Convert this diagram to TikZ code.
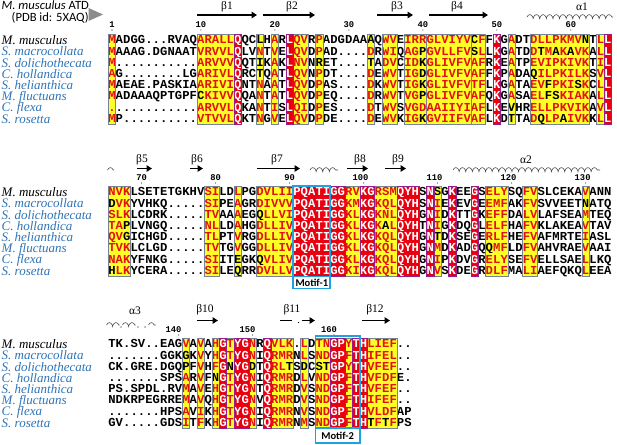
\documentclass[tikz,border=0pt]{standalone}
\usepackage{fontspec}
\usepackage{xcolor}
\usepackage{tikz}
\usetikzlibrary{arrows.meta,positioning,calc,decorations.pathmorphing}

\newfontfamily\seqfont{Liberation Mono}
\newfontfamily\spfont{Liberation Serif}
\newfontfamily\hdfont{Carlito}

\definecolor{simyellow}{RGB}{255,255,40}
\definecolor{idred}{RGB}{232,0,16}
\definecolor{simred}{RGB}{226,18,18}
\definecolor{boxgray}{RGB}{120,130,150}
\definecolor{boxpurple}{RGB}{150,30,140}
\definecolor{motifblue}{RGB}{30,162,224}
\definecolor{specblue}{RGB}{46,116,181}

% alignment geometry (1 unit = 1pt = 1px)
\newcommand{\colw}{7.4}
\newcommand{\colzero}{104.6}
\newcommand{\rowh}{11.2}

% column classes: n = plain, y = similar (yellow), r = identical (red)
\newcommand{\clsA}{ynnnnnnnnnnnyyyyyrnnynynryynynnnnnnynyynyyyyyyyyyyynrnynnyyyyyyyynyr}
\newcommand{\clsB}{yyynnnnnnnnnnyynnynnyyyyyrrrrrrryyrryyyrrrnrynrnnrnyyynnyynnnnnnynnn}
\newcommand{\clsC}{nnnnnnnnnnynynyryrrynryyynynyyrryrryyyynn}

% one cell: class and residue (lower case = black letter in a yellow column)
\newcommand{\alncell}[2]{%
  \if#1r%
    \fill[idred] ({\colzero+\colw*\alncol-3.78},{\alny-5.75}) rectangle ++(7.56,11.5);
    \node[res,text=white] at ({\colzero+\colw*\alncol},{\alny+3.9}) {#2};%
  \else\if#1y%
    \fill[simyellow] ({\colzero+\colw*\alncol-3.78},{\alny-5.75}) rectangle ++(7.56,11.5);
    \ifnum`#2>`Z\relax
      \node[res] at ({\colzero+\colw*\alncol},{\alny+3.9}) {\uppercase{#2}};%
    \else
      \node[res,text=simred] at ({\colzero+\colw*\alncol},{\alny+3.9}) {#2};%
    \fi
  \else
    \node[res] at ({\colzero+\colw*\alncol},{\alny+3.9}) {#2};%
  \fi\fi}
\newcommand{\alnrow}[3]{%
  \def\alny{#1}\def\alncol{0}%
  \expandafter\alnstep#2\relax#3\relax}
\def\alnstep#1#2\relax#3#4\relax{%
  \pgfmathtruncatemacro{\alncol}{\alncol+1}%
  \alncell{#1}{#3}%
  \def\alnrest{#2}%
  \ifx\alnrest\empty\let\alnnext\relax
  \else\def\alnnext{\alnstep#2\relax#4\relax}\fi
  \alnnext}

\begin{document}
\begin{tikzpicture}[x=1pt,y=-1pt,
    res/.style={font=\seqfont\bfseries\fontsize{12.2}{12.2}\selectfont, inner sep=0pt, anchor=base},
    spec/.style={font=\spfont\itshape\fontsize{13}{13}\selectfont, text=specblue, inner sep=0pt, anchor=base west},
    numlbl/.style={font=\seqfont\bfseries\fontsize{8.8}{9}\selectfont, inner sep=0pt, anchor=base},
    sslbl/.style={font=\spfont\fontsize{11.5}{11.5}\selectfont, inner sep=0pt},
    strand/.style={line width=1.6pt, -{Triangle[length=5.5pt,width=6.5pt]}},
    helix/.style={draw=black!75, line width=0.55pt, decorate, decoration={coil, amplitude=2.4pt, segment length=6.6pt, aspect=0.5}},
    simframe/.style={draw=boxgray, line width=0.5pt},
    idframe/.style={draw=boxpurple, line width=0.7pt},
    motif/.style={draw=motifblue, line width=1.8pt},
    motiftag/.style={draw=motifblue, line width=1.8pt, font=\hdfont\bfseries\fontsize{10.5}{11}\selectfont, inner sep=0pt}
]
\useasboundingbox (0,0) rectangle (617,444);

% header
\node[anchor=base west, inner sep=0pt, font=\hdfont\fontsize{12.6}{13}\selectfont] (title) at (1.5,10) {\textit{M. musculus} ATD};
\node[anchor=base west, inner sep=0pt, font=\hdfont\fontsize{12.6}{13}\selectfont] (pdb) at (11.5,22) {(PDB id: 5XAQ)};
\fill[black!45] (88.5,8) -- (88.5,21) -- (103,14.5) -- cycle;

% species names, three blocks
\foreach \by/\blk in {40/a,192/b,344/c}{
  \node[spec,text=black] (mus\blk) at (1.5,\by+4.6) {M. musculus};
  \foreach \nm [count=\k] in {S. macrocollata,S. dolichothecata,C. hollandica,S. helianthica,M. fluctuans,C. flexa,S. rosetta}
    \node[spec] (sp\k\blk) at (1.5,{\by+\k*\rowh+4.6}) {\nm};
}

% ---- block 1 ----
\foreach \n/\c in {1/1,10/13,20/23,30/33,40/43,50/53,60/63}{
  \node[numlbl] (num\n) at ({\colzero+\colw*\c},27.5) {\n};
  \fill ({\colzero+\colw*\c},30) circle (0.55);
}
\draw[strand] (197,15) -- (257,15);
\draw[strand] (263,15) -- (315,15);
\draw[strand] (377,15) -- (413,15);
\draw[strand] (429,15) -- (488,15);
\draw[helix] (527,17) -- (613,17);
\node[sslbl] (b1) at (227,6.5) {β1};
\node[sslbl] (b2) at (292,6.5) {β2};
\node[sslbl] (b3) at (397,6.5) {β3};
\node[sslbl] (b4) at (457,6.5) {β4};
\node[sslbl] (a1) at (582,6.5) {α1};

\alnrow{40}{\clsA}{MADGG...RVAQARALLQQClHARLQVRPADGDAAaQWVEIRRGLVIYVcFFKGADTDLLPKMVnTLL}
\alnrow{51.2}{\clsA}{MAAAG.DGNAATVRVVLQLVNTVELQVDPAD....DRWIQAGpGVLLFVsLLKGATDDtMaKaVKALL}
\alnrow{62.4}{\clsA}{M...........ARVVVQQTiKAKLNVNrET....tADVCIDkGLIVFVAFRKEATPEVIPKIVKTIL}
\alnrow{73.6}{\clsA}{AG........LGARIVLQRCtQATLQVNPDT....DEWVTIGdGLIVFVAFFKPADAqILPKILKSVL}
\alnrow{84.8}{\clsA}{MAEAE.PASKIAARIVIQNTNAATLQVDPAS....DKWVTIGkGLIVFVTFLKGATAEVfPKIsKCLL}
\alnrow{96}{\clsA}{MADAAAQPTGPFcKIVVQQANTATLQVDPEQ....DRWVTVGpGLIVFVAFQKGASAELfsKIAKALL}
\alnrow{107.2}{\clsA}{............ARVVLQKANTISLQIDPES....DTWVSVGDAAIIYIAFLKEvHRELLPKVIKAVL}
\alnrow{118.4}{\clsA}{MP..........VTVVLQKTNGVELQVDPDE....DEWVKIGkGVIIFVAFLKDtTADqLPaIVKKLL}

\foreach \a/\b in {1/1,13/17,21/21,23/23,26/27,29/29,36/36,38/39,41/43,44/49,50/51,55/55,58/65,67/67}
  \draw[simframe] ({\colzero+\colw*(\a-0.5)},34.3) rectangle ({\colzero+\colw*(\b+0.5)},124.1);
\foreach \a/\b in {18/18,25/25,53/53,68/68}
  \draw[idframe] ({\colzero+\colw*(\a-0.5)},34.3) rectangle ({\colzero+\colw*(\b+0.5)},124.1);

% ---- block 2 ----
\foreach \n/\c/\dx in {70/5/0,80/15/0,90/25/0,100/35/-3,110/45/-3,120/55/-3,130/65/-3}{
  \node[numlbl] (num\n) at ({\colzero+\colw*\c+\dx},180.5) {\n};
  \fill ({\colzero+\colw*\c},183) circle (0.55);
}
\draw[helix] (107.5,170) -- (114,170);
\draw[strand] (137,168.5) -- (152,168.5);
\draw[strand] (190,168.5) -- (203,168.5);
\draw[strand] (257,168.5) -- (300,168.5);
\draw[helix] (310,170) -- (338,170);
\draw[strand] (347,168.5) -- (368,168.5);
\draw[strand] (385,168.5) -- (406,168.5);
\draw[helix] (453,170) -- (600,170);
\node[sslbl] (b5) at (142,159.5) {β5};
\node[sslbl] (b6) at (197,159.5) {β6};
\node[sslbl] (b7) at (277,159.5) {β7};
\node[sslbl] (b8) at (360,159.5) {β8};
\node[sslbl] (b9) at (398,159.5) {β9};
\node[sslbl] (a2) at (526,159.5) {α2};

\alnrow{192}{\clsB}{NVKLSETETGKHVSILDLPGDVLIIPQATIGGRVKGRSMQYHSNsGKEEGSELYSQFVSLCEKAVANN}
\alnrow{203.2}{\clsB}{dVKYVHKQ.....SIPEAGRDIVVVPQATIGGKMKGKQLQYHSNIEKEVGEEMFAKFVSVVEETnATQ}
\alnrow{214.4}{\clsB}{SLKLCDRK.....TVAAAEGqLLVIPQATIGGKLKGKNLQYHGNIDKTTGKEFFDALVLAFSEAMTEQ}
\alnrow{225.6}{\clsB}{TApLVNGQ.....NLLDAHGDLLIVPQATIGGKLKGKaLQYHTNIGKDQGLELFHAFVKLAKEAVTAV}
\alnrow{236.8}{\clsB}{QVgICHGD.....TLPTVRGDLLIVPQATIGGKLKGKQLQYHGNtDKSEGERLFHEFVAFMRTEIASL}
\alnrow{248}{\clsB}{TVKLCLGD.....TVTGVGGDLLIVPQATIGGKLKGKQLQYHGNMDKADGQqMFLDFVAHVRAEVAAI}
\alnrow{259.2}{\clsB}{NAKYFNKG.....SIITeGKqVLIVPQATIGGKLKGKQLQYHGNIPKDVGRELYSEFVELLSAELLKQ}
\alnrow{270.4}{\clsB}{hLKYCERA.....SILEqRRDVLLVPQATIGGKIKGKQLQYHGNVSKDEGRDLFMALIAEFQKQLEEA}

\foreach \a/\b in {1/3,14/15,18/18,21/25,33/34,37/39,45/45,52/54,57/58,65/65}
  \draw[simframe] ({\colzero+\colw*(\a-0.5)},186.3) rectangle ({\colzero+\colw*(\b+0.5)},276.1);
\foreach \a/\b in {26/32,35/36,40/42,44/44,47/47,50/50}
  \draw[idframe] ({\colzero+\colw*(\a-0.5)},186.3) rectangle ({\colzero+\colw*(\b+0.5)},276.1);
\draw[motif] (293.3,186.3) rectangle (330.3,276.4);
\node[motiftag, minimum width=37pt, minimum height=12pt] (motif1) at (311.8,282.4) {Motif-1};

% ---- block 3 ----
\foreach \n/\c in {140/10,150/20,160/31}{
  \node[numlbl] (num\n) at ({\colzero+\colw*\c-5},332.5) {\n};
  \fill ({\colzero+\colw*\c},335) circle (0.55);
}
\draw[helix] (106.5,325) -- (119.5,325);
\fill (121,327) circle (0.6);
\draw[helix] (122.5,325) -- (135.5,325);
\fill (138,327) circle (0.6);
\fill (145,327) circle (0.6);
\draw[helix] (148.5,325) -- (155.5,325);
\draw[strand] (197,320.5) -- (218,320.5);
\draw[line width=1.6pt] (280,320.5) -- (292,320.5);
\fill (298.5,322.5) circle (0.6);
\draw[strand] (302,320.5) -- (315,320.5);
\draw[strand] (362,320.5) -- (390,320.5);
\node[sslbl] (a3) at (135,311) {α3};
\node[sslbl] (b10) at (205,310) {β10};
\node[sslbl] (b11) at (292,310) {β11};
\node[sslbl] (b12) at (375,310) {β12};

\alnrow{344}{\clsC}{TK.SV..EAGVAVAHGTYGNRQVLK.LDTNGPYTHLIEF..}
\alnrow{355.2}{\clsC}{.......GGKgKVYHGTYGNIQRMRNLSNDGPFTHIFEL..}
\alnrow{366.4}{\clsC}{CK.GRE.DGQpFVHFGnYGdTQRLtSdCstGPYTHVFEF..}
\alnrow{377.6}{\clsC}{.......SPSARVFnGTYGNIQRMRDLVNDGPFTHVFDFE.}
\alnrow{388.8}{\clsC}{PS.SPDL.RVMAVEHGTYGNTQRMRDVSNDGPFTHVFEF..}
\alnrow{400}{\clsC}{NDKRPEGRREMAVQHGTYGNVQRMRDVSNDGPFTHIFEF..}
\alnrow{411.2}{\clsC}{.......HPSAVIKHGTYGNIQRMRNVSNDGPFTHVLDFAP}
\alnrow{422.4}{\clsC}{GV.....GDSITFKHGTYGNIQRMRNMSNDGPFTHtFtFPS}

\foreach \a/\b in {11/11,13/13,15/15,17/17,20/20,23/25,27/27,29/30,33/33,36/39}
  \draw[simframe] ({\colzero+\colw*(\a-0.5)},338.3) rectangle ({\colzero+\colw*(\b+0.5)},428.1);
\foreach \a/\b in {16/16,18/19,22/22,31/32,34/35}
  \draw[idframe] ({\colzero+\colw*(\a-0.5)},338.3) rectangle ({\colzero+\colw*(\b+0.5)},428.1);
\draw[motif] (315.5,336) rectangle (359.9,428.4);
\node[motiftag, minimum width=44.4pt, minimum height=14.5pt] (motif2) at (337.7,435.6) {Motif-2};
\end{tikzpicture}
\end{document}
